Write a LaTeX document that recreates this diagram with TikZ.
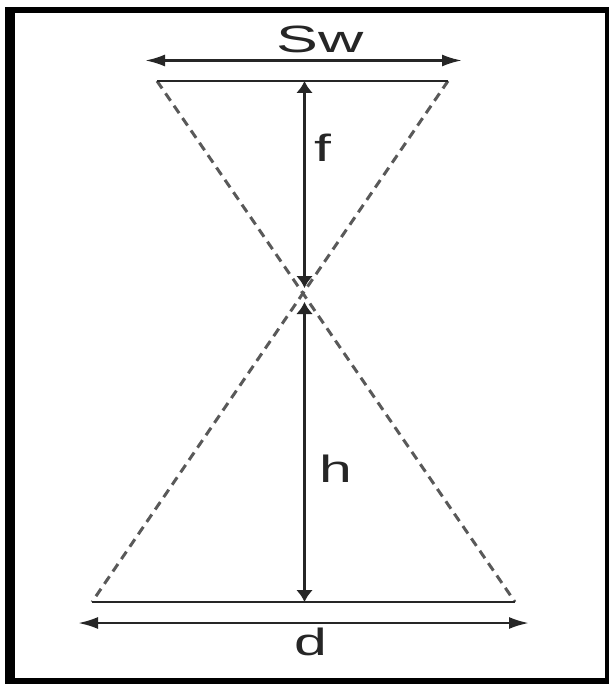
\documentclass[tikz,border=0pt]{standalone}
\usepackage{fontspec}
\setmainfont{Liberation Sans}
\usetikzlibrary{arrows.meta}
\begin{document}
\begin{tikzpicture}[x=1pt,y=-1pt,
  solidline/.style={line width=2.6pt,draw=black!85},
  dashline/.style={line width=3pt,draw=black!65,dash pattern=on 9pt off 6pt},
  harrow/.style={solidline,{Latex[length=20pt,width=12pt]}-{Latex[length=20pt,width=12pt]}},
  varrow/.style={solidline,{Latex[length=12pt,width=17pt]}-{Latex[length=12pt,width=17pt]}},
  lbl/.style={anchor=base,inner sep=0pt,font=\fontsize{38}{40}\selectfont,text=black!85}]
\useasboundingbox (0,0) rectangle (612,684);
\fill[white] (0,0) rectangle (612,684);
% frame
\fill[black] (5,7) rectangle (609,684);
\fill[white] (15,13) rectangle (605,678);
% corners
\coordinate (TL) at (157,81);
\coordinate (TR) at (448,81);
\coordinate (BL) at (92,602);
\coordinate (BR) at (515,602);
\coordinate (swL) at (145,60.5);
\coordinate (swR) at (462,60.5);
\coordinate (dL) at (78,623);
\coordinate (dR) at (529,623);
\coordinate (fT) at (304.5,81);
\coordinate (fB) at (304.5,288);
\coordinate (hT) at (304.5,302);
\coordinate (hB) at (304.5,602);
% dashed cone lines
\draw[dashline] (TL) -- (BR);
\draw[dashline] (TR) -- (BL);
% solid lines
\draw[solidline] (TL) -- (TR);
\draw[solidline] (BL) -- (BR);
\draw[harrow] (swL) -- (swR);
\draw[harrow] (dL) -- (dR);
\draw[varrow] (fT) -- (fB);
\draw[varrow] (hT) -- (hB);
% labels
\node[lbl] (Sw) at (320.5,53) {\scalebox{1.65}[1]{Sw}};
\node[lbl] (f) at (322.5,162) {\scalebox{1.6}[1]{f}};
\node[lbl] (h) at (336,482) {\scalebox{1.55}[1]{h}};
\node[lbl] (d) at (311,655) {\scalebox{1.55}[1]{d}};
\end{tikzpicture}
\end{document}
